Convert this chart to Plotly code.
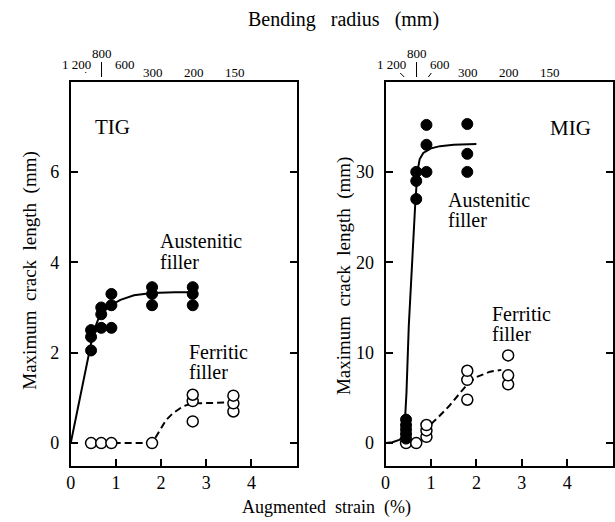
import plotly.graph_objects as go

# ---------------- data ----------------
radius_values = [1200, 800, 600, 300, 200, 150]
radius_labels = ["1 200", "800", "600", "300", "200", "150"]
STRAIN_K = 545.0  # augmented strain (%) ~ K / bending radius (mm)

x_tickvals = [0, 1, 2, 3, 4]
tig_y_tickvals = [0, 2, 4, 6]
mig_y_tickvals = [0, 10, 20, 30]

# TIG - austenitic filler (filled circles)
tig_aus_x = [0.45, 0.45, 0.45, 0.675, 0.675, 0.675, 0.9, 0.9, 0.9, 1.8, 1.8, 1.8, 2.7, 2.7, 2.7]
tig_aus_y = [2.05, 2.35, 2.5, 2.55, 2.85, 3.0, 2.55, 3.05, 3.3, 3.05, 3.3, 3.45, 3.05, 3.3, 3.45]
tig_aus_curve_x = [0, 0.42, 0.5, 0.6, 0.75, 0.9, 1.1, 1.4, 1.8, 2.3, 2.75]
tig_aus_curve_y = [0, 2.08, 2.45, 2.72, 2.93, 3.06, 3.17, 3.27, 3.32, 3.34, 3.34]

# TIG - ferritic filler (open circles)
tig_fer_x = [0.45, 0.675, 0.9, 1.8, 2.7, 2.7, 2.7, 3.6, 3.6, 3.6]
tig_fer_y = [0, 0, 0, 0, 0.48, 0.93, 1.07, 0.7, 0.88, 1.05]
tig_fer_curve_x = [0.95, 1.75, 1.85, 1.97, 2.11, 2.26, 2.48, 2.62, 2.8, 3.2, 3.55]
tig_fer_curve_y = [0, 0, 0.08, 0.29, 0.51, 0.66, 0.81, 0.86, 0.88, 0.89, 0.9]

# MIG - austenitic filler (filled circles)
mig_aus_x = [0.45, 0.45, 0.45, 0.45, 0.45, 0.675, 0.675, 0.675, 0.9, 0.9, 0.9, 1.8, 1.8, 1.8]
mig_aus_y = [0.5, 1.0, 1.5, 2.0, 2.6, 27.0, 29.0, 30.0, 30.0, 33.0, 35.2, 30.0, 32.0, 35.3]
mig_aus_curve_x = [0, 0.15, 0.3, 0.4, 0.42, 0.46, 0.51, 0.58, 0.65, 0.7, 0.75, 0.83, 1.0, 1.2, 1.5, 2.0]
mig_aus_curve_y = [0, 0.1, 0.35, 0.8, 1.9, 5.6, 12.9, 20.3, 26.2, 30.0, 31.4, 32.1, 32.6, 32.85, 33.0, 33.1]

# MIG - ferritic filler (open circles)
mig_fer_x = [0.45, 0.675, 0.9, 0.9, 0.9, 1.8, 1.8, 1.8, 2.7, 2.7, 2.7]
mig_fer_y = [0, 0, 0.7, 1.4, 2.0, 4.8, 7.0, 8.0, 6.5, 7.5, 9.7]
mig_fer_curve_x = [1.0, 1.15, 1.4, 1.62, 1.8, 2.0, 2.3, 2.55]
mig_fer_curve_y = [2.1, 2.8, 4.1, 5.4, 6.5, 7.3, 7.9, 8.1]

# ---------------- figure ----------------
W, H = 615, 522
FONT = "Liberation Serif"


def px(x):
    return x / W


def py(y):
    return 1 - y / H


radius_strain = [STRAIN_K / r for r in radius_values]

fig = go.Figure()

line_style = dict(color="black", width=2)
filled = dict(symbol="circle", size=11, color="black", line=dict(color="black", width=1))
opened = dict(symbol="circle", size=11, color="white", line=dict(color="black", width=1.5))

panels = [
    ("x", "y", tig_aus_x, tig_aus_y, tig_aus_curve_x, tig_aus_curve_y,
     tig_fer_x, tig_fer_y, tig_fer_curve_x, tig_fer_curve_y),
    ("x2", "y2", mig_aus_x, mig_aus_y, mig_aus_curve_x, mig_aus_curve_y,
     mig_fer_x, mig_fer_y, mig_fer_curve_x, mig_fer_curve_y),
]
for xa, ya, ax, ay, acx, acy, fx, fy, fcx, fcy in panels:
    fig.add_trace(go.Scatter(x=acx, y=acy, mode="lines", line=line_style,
                             xaxis=xa, yaxis=ya, showlegend=False, hoverinfo="skip"))
    fig.add_trace(go.Scatter(x=fcx, y=fcy, mode="lines",
                             line=dict(color="black", width=2, dash="7px,4px"),
                             xaxis=xa, yaxis=ya, showlegend=False, hoverinfo="skip"))
    fig.add_trace(go.Scatter(x=fx, y=fy, mode="markers", marker=opened,
                             xaxis=xa, yaxis=ya, showlegend=False))
    fig.add_trace(go.Scatter(x=ax, y=ay, mode="markers", marker=filled,
                             xaxis=xa, yaxis=ya, showlegend=False))

tickfont = dict(family=FONT, size=18, color="black")
common_x = dict(range=[0, 5], tickvals=x_tickvals, ticks="inside", ticklen=7, tickwidth=2,
                tickcolor="black", showline=True, linewidth=2, linecolor="black",
                mirror=True, showgrid=False, zeroline=False, tickfont=tickfont,
                ticklabelstandoff=0)
common_y = dict(ticks="inside", ticklen=7, tickwidth=2, tickcolor="black",
                showline=True, linewidth=2, linecolor="black", mirror="ticks",
                showgrid=False, zeroline=False, tickfont=tickfont, ticklabelstandoff=6)
top_axis = dict(range=[0, 5], side="top", tickvals=radius_strain, showticklabels=False,
                ticks="inside", ticklen=6, tickwidth=2, tickcolor="black",
                showline=False, showgrid=False, zeroline=False)

ydom = [py(465.7), py(81.5)]
fig.update_layout(
    width=W, height=H, margin=dict(l=0, r=0, t=0, b=0),
    paper_bgcolor="white", plot_bgcolor="white",
    xaxis=dict(domain=[px(66.5), px(295)], anchor="y", **common_x),
    yaxis=dict(domain=ydom, anchor="x", range=[-0.5, 8], tickvals=tig_y_tickvals, **common_y),
    xaxis2=dict(domain=[px(385), px(614.5)], anchor="y2", **common_x),
    yaxis2=dict(domain=ydom, anchor="x2", range=[-2.5, 40], tickvals=mig_y_tickvals, **common_y),
    xaxis3=dict(overlaying="x", anchor="y", **top_axis),
    xaxis4=dict(overlaying="x2", anchor="y2", **top_axis),
)

ann = []


def txt(text, x, y, size=20, xanchor="center", yanchor="middle", angle=0, xref="paper", xshift=0):
    ann.append(dict(text=text, x=x, y=y, xref=xref, yref="paper", showarrow=False,
                    xanchor=xanchor, yanchor=yanchor, textangle=angle, xshift=xshift,
                    font=dict(family=FONT, size=size, color="black")))


NB = "\u00a0"
txt("Bending" + NB * 3 + "radius" + NB * 3 + "(mm)", px(342), py(20), size=20)
txt("Augmented" + NB * 2 + "strain" + NB * 2 + "(%)", px(325), py(507), size=18)
txt("Maximum" + NB * 2 + "crack" + NB * 2 + "length" + NB * 2 + "(mm)", px(25), py(270), size=19, angle=-90)
txt("Maximum" + NB * 2 + "crack" + NB * 2 + "length" + NB * 2 + "(mm)", px(343), py(276), size=19, angle=-90)

txt("TIG", px(109), py(127), size=21)
txt("MIG", px(572), py(128), size=21)
txt("Austenitic", px(155), py(241), size=20, xanchor="left")
txt("filler", px(155), py(262), size=20, xanchor="left")
txt("Ferritic", px(184), py(352), size=20, xanchor="left")
txt("filler", px(184), py(372), size=20, xanchor="left")
txt("Austenitic", px(446), py(200), size=20, xanchor="left")
txt("filler", px(446), py(220), size=20, xanchor="left")
txt("Ferritic", px(491), py(314), size=20, xanchor="left")
txt("filler", px(491), py(334), size=20, xanchor="left")

# radius labels over the top axis (staggered like the original)
label_shift = {"1 200": -15, "800": 0, "600": 13}
label_y = {"1 200": 64, "800": 54, "600": 64}
for xr in ("x", "x2"):
    for s, lab in zip(radius_strain, radius_labels):
        txt(lab, s, py(label_y.get(lab, 72)), size=13, xref=xr, xshift=label_shift.get(lab, 0))

fig.update_layout(annotations=ann)

# little leader marks for the crowded radius labels
shapes = []
for xr in ("x", "x2"):
    shapes.append(dict(type="line", xref=xr, yref="paper", x0=STRAIN_K / 800, x1=STRAIN_K / 800,
                       y0=py(77), y1=py(62), line=dict(color="black", width=1)))
shapes.append(dict(type="line", xref="x2", yref="paper", xsizemode="pixel", xanchor=STRAIN_K / 1200,
                   x0=-6, x1=-2, y0=py(73), y1=py(77), line=dict(color="black", width=1)))
shapes.append(dict(type="line", xref="x2", yref="paper", xsizemode="pixel", xanchor=STRAIN_K / 600,
                   x0=1.5, x1=4.5, y0=py(77), y1=py(73), line=dict(color="black", width=1)))
shapes.append(dict(type="line", xref="x", yref="paper", xsizemode="pixel", xanchor=STRAIN_K / 1200,
                   x0=-6, x1=-5, y0=py(72), y1=py(73), line=dict(color="black", width=1)))
fig.update_layout(shapes=shapes)

fig.write_html("out.html")
